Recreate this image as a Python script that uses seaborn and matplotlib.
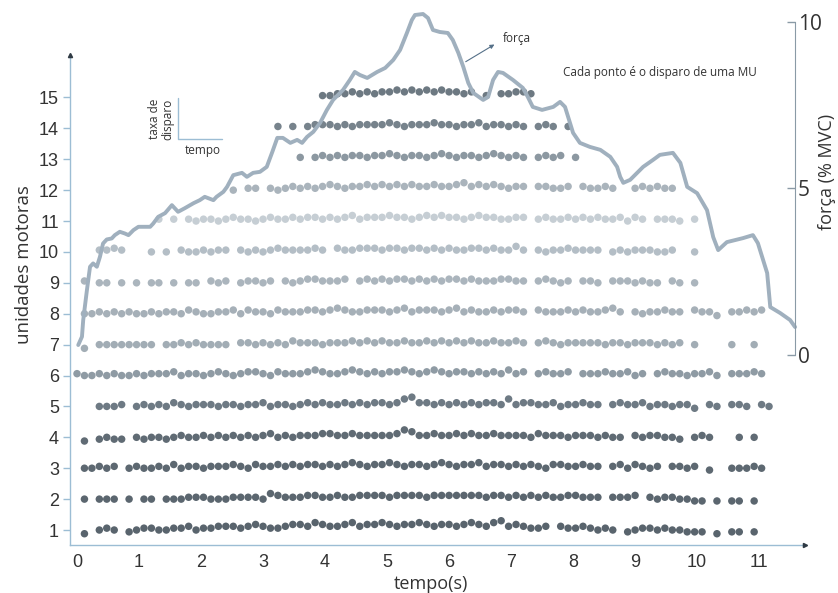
import numpy as np
import pandas as pd
import matplotlib
matplotlib.use("Agg")
import matplotlib.pyplot as plt
import seaborn as sns

# ---------------- data ----------------
# firing trains: one character per 0.12 s slot ('.' = no firing, digit = rate level)
slot_dt = 0.12
offset_step = 0.06
mu_ids = list(range(1, 16))
mu_patterns = [
    ".1.343.234|4334453445|5545654456|6576556756|6765667656|6567657856|5445.54454|343.234434|33222.1.22|.2",
    ".3.333.3.3|3.33344433|3444436544|4554454455|5545555455|5555545545|4545445544|4.4445.434|43322.2.22|.2",
    ".33434.343|3435344344|4543544545|4554545654|5565455456|5455645545|4543554454|4.4535434.|4434.2..33|343",
    ".1.2322.32|3323433434|3434345343|4445544544|4445764454|4545445444|4354443444|3433.43443|32.343...3|.3",
    "...3334.34|3435434443|4434453443|4545445454|5545785545|4545455474|5544534454|4.45445344|3442.43.44|3.43",
    "4334343343|4445344345|4345543544|4565445654|5455654565|4554545464|5.45445.44|4544534.45|4434453.44|454",
    ".1.3333333|3.33434333|3.44343435|4443444545|4544544545|4545445445|4.45434444|4344344434|34.3....3.|.3",
    ".334343433|4344354334|4535443544|4554565445|5545645554|5645445455|4.54445454|4564.43445|44.5442.44|545",
    ".4.33.3.3.|33.3.33.43|4.34434.43|4554445.45|4545545454|5545444554|4.45434.44|3.4443433.|43.3",
    "...4454...|3.3.433434|4.43434544|4454.54455|5455455454|5445545446|4.43445444|4.34344433|4..3",
    "..........|.4.4.43443|4544345445|4554545645|5565545656|5545655445|5.45445454|5445354.44|43.4",
    "..........|..........|.3.44.4345|4545654556|5656565565|5675656545|5.55445.54|454..45454|4",
    "..........|..........|..........|4.45454554|5565455456|5455456545|4.4545.4",
    "..........|..........|.......4.4|.455545455|5565455565|5455645545|4.454.4",
    "..........|..........|..........|...4455656|5667676767|6656.4.556|65",
]
mu_colors = ["#59646d", "#5b666f", "#5d6871", "#606b74", "#6e7a84", "#8f9ba4",
             "#a2adb5", "#a6b0b8", "#abb5bd", "#b4bec6", "#c6ced4", "#aab4bc",
             "#8c98a1", "#77838c", "#6d7982"]

force_t = [0.02, 0.08, 0.10, 0.16, 0.21, 0.26, 0.32, 0.37, 0.42, 0.48, 0.56, 0.61, 0.69,
           0.77, 0.83, 0.91, 0.99, 1.18, 1.23, 1.31, 1.42, 1.53, 1.63, 1.74, 1.88, 1.98,
           2.06, 2.20, 2.25, 2.36, 2.42, 2.52, 2.66, 2.74, 2.84, 2.95, 3.06, 3.15, 3.23,
           3.32, 3.44, 3.55, 3.63, 3.71, 3.81, 3.92, 4.03, 4.13, 4.29, 4.40, 4.48, 4.56,
           4.68, 4.84, 4.97, 5.10, 5.21, 5.32, 5.40, 5.45, 5.58, 5.66, 5.74, 5.85, 5.98,
           6.06, 6.15, 6.23, 6.31, 6.39, 6.55, 6.63, 6.71, 6.79, 6.87, 7.03, 7.19, 7.27,
           7.35, 7.50, 7.68, 7.79, 7.87, 7.92, 8.00, 8.11, 8.27, 8.44, 8.60, 8.71, 8.76,
           8.81, 8.92, 9.13, 9.29, 9.40, 9.61, 9.73, 9.84, 10.00, 10.16, 10.26, 10.34,
           10.48, 10.74, 10.90, 10.98, 11.13, 11.18, 11.34, 11.50, 11.58]
force_v = [0.30, 0.55, 1.05, 1.95, 2.65, 2.75, 2.65, 2.95, 3.35, 3.47, 3.50, 3.60, 3.70,
           3.65, 3.60, 3.75, 3.85, 3.85, 3.95, 4.15, 4.26, 4.50, 4.30, 4.41, 4.56, 4.65,
           4.75, 4.65, 4.75, 4.90, 5.05, 5.40, 5.47, 5.35, 5.47, 5.50, 5.65, 6.10, 6.52,
           6.52, 6.37, 6.46, 6.37, 6.55, 6.70, 6.97, 7.36, 7.66, 7.96, 8.26, 8.50, 8.41,
           8.32, 8.50, 8.62, 8.86, 9.16, 9.67, 10.06, 10.21, 10.24, 10.12, 9.76, 9.70, 9.67,
           9.46, 9.07, 8.65, 8.17, 7.87, 7.66, 7.75, 8.26, 8.50, 8.47, 8.26, 8.02, 7.75,
           7.45, 7.36, 7.45, 7.60, 7.45, 7.15, 6.67, 6.37, 6.25, 6.16, 5.95, 5.65, 5.35,
           5.17, 5.26, 5.65, 5.86, 6.01, 6.07, 5.77, 5.05, 4.86, 4.35, 3.54, 3.15,
           3.39, 3.51, 3.60, 3.36, 2.46, 1.44, 1.26, 1.05, 0.84]

x_ticks = list(range(0, 12))
y_ticks = list(range(1, 16))
force_ticks = [0, 5, 10]

# ---------------- build table ----------------
rows = []
for mu, pat in zip(mu_ids, mu_patterns):
    for i, ch in enumerate(pat.replace("|", "")):
        if ch != ".":
            rows.append({"mu": mu, "t": i * slot_dt, "y": mu + (int(ch) - 3) * offset_step})
df = pd.DataFrame(rows)

# ---------------- style ----------------
sns.set_style("white")
plt.rcParams["font.family"] = ["Open Sans", "DejaVu Sans"]

W, H = 838, 593
fig = plt.figure(figsize=(W / 100, H / 100), dpi=100)
px_l, px_r, px_b, px_t = 70, 805, 545, 10
ax = fig.add_axes([px_l / W, 1 - px_b / H, (px_r - px_l) / W, (px_b - px_t) / H])

axis_col = "#9cbdd4"
txt_col = "#333333"

sns.scatterplot(data=df, x="t", y="y", hue="mu",
                palette=dict(zip(mu_ids, mu_colors)), s=29, linewidth=0,
                legend=False, ax=ax, zorder=2)

ax.set_xlim(-0.113, 11.74)
ax.set_ylim(0.515, 17.83)
ax.set_xlabel("")
ax.set_ylabel("")
for s in ["top", "right"]:
    ax.spines[s].set_visible(False)
for s in ["left", "bottom"]:
    ax.spines[s].set_color(axis_col)
    ax.spines[s].set_linewidth(1.0)
ax.spines["left"].set_bounds(0.515, 16.37)
ax.set_xticks(x_ticks)
ax.set_yticks(y_ticks)
ax.tick_params(axis="x", direction="inout", length=7, width=1, colors=axis_col,
               labelcolor=txt_col, labelsize=13, pad=3)
ax.tick_params(axis="y", direction="out", length=5, width=1, colors=axis_col,
               labelcolor=txt_col, labelsize=13, pad=3)
for lab in ax.get_xticklabels() + ax.get_yticklabels():
    lab.set_fontfamily("Liberation Sans")

# axis end markers
ax.plot([-0.113], [16.37], marker="^", ms=3, color="#2f3a44", clip_on=False, zorder=5)
ax.plot([11.74], [0.515], marker=">", ms=3, color="#2f3a44", clip_on=False, zorder=5)

# force on twin axis
ax2 = ax.twinx()
sns.lineplot(x=force_t, y=force_v, ax=ax2, color="#a0b0be", lw=2.8,
             estimator=None, sort=False)
ax2.set_ylim(-5.705, 10.36)
for s in ["top", "left", "bottom"]:
    ax2.spines[s].set_visible(False)
ax2.spines["right"].set_position(("axes", (795 - px_l) / (px_r - px_l)))
ax2.spines["right"].set_bounds(0, 10)
ax2.spines["right"].set_color("#8a9aa6")
ax2.set_yticks(force_ticks)
ax2.tick_params(axis="y", direction="in", length=6, width=1, colors="#8a9aa6",
                labelcolor=txt_col, labelsize=15, pad=2)
for lab in ax2.get_yticklabels():
    lab.set_fontfamily("Open Sans")
ax2.set_ylabel("")

# labels
fig.text(24 / W, 1 - 265 / H, "unidades motoras", rotation=90, ha="center", va="center",
         fontsize=13.5, color=txt_col)
fig.text(431 / W, 1 - 584 / H, "tempo(s)", ha="center", va="center", fontsize=13, color=txt_col)
fig.text(827 / W, 1 - 172 / H, "força (% MVC)", rotation=90, ha="center", va="center",
         fontsize=13, color=txt_col)

# annotations
ax.annotate("", xy=(6.77, 16.76), xytext=(6.23, 16.11),
            arrowprops=dict(arrowstyle="-|>", color="#557088", lw=0.8, mutation_scale=6),
            annotation_clip=False)
ax.text(6.87, 16.92, "força", fontsize=8.5, ha="left", va="center", color=txt_col)
ax.text(7.84, 15.82, "Cada ponto é o disparo de uma MU", fontsize=8.5, ha="left",
        va="center", color=txt_col)

# inset legend: taxa de disparo / tempo
ax.plot([1.63, 1.63, 2.34], [14.98, 13.65, 13.65], color=axis_col, lw=1, clip_on=False)
ax.text(2.02, 13.27, "tempo", fontsize=8.5, ha="center", va="center", color=txt_col)
ax.text(1.36, 14.3, "taxa de\ndisparo", fontsize=8.5, ha="center", va="center",
        rotation=90, color=txt_col, linespacing=1.0)

fig.savefig("out.png", dpi=100)
